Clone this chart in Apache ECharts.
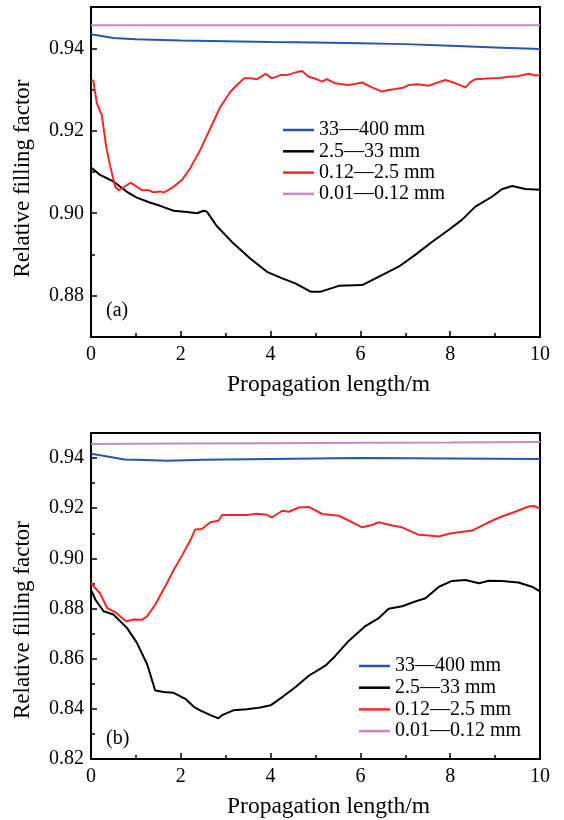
<!DOCTYPE html>
<html>
<head>
<meta charset="utf-8">
<script src="https://cdn.jsdelivr.net/npm/echarts@6/dist/echarts.min.js"></script>
<style>
  html, body { margin: 0; padding: 0; background: #fff; }
  #charts { width: 564px; height: 820px; }
</style>
</head>
<body>
<div id="charts"></div>
<script>
// legend names
var names = ['33—400 mm', '2.5—33 mm', '0.12—2.5 mm', '0.01—0.12 mm'];
var colors = ['#2a56a8', '#000000', '#f02828', '#c488c4'];

// (a)
var aBlueX = [0, 0.5, 1, 2, 3, 4, 5, 6, 7, 8, 9, 10];
var aBlueY = [0.9434, 0.9425, 0.9422, 0.9419, 0.9417, 0.9415, 0.9414, 0.9412, 0.9410, 0.9406, 0.9402, 0.9398];
var aBlackX = [0, 0.2, 0.5, 0.8, 1.02, 1.31, 1.54, 1.84, 2.14, 2.36, 2.51, 2.58, 2.80, 3.17, 3.54, 3.92, 4.26, 4.55, 4.89, 5.12, 5.52, 6.04, 6.48, 6.86, 7.22, 7.60, 7.97, 8.26, 8.56, 8.93, 9.15, 9.38, 9.67, 10];
var aBlackY = [0.9111, 0.9093, 0.9077, 0.9052, 0.9038, 0.9026, 0.9018, 0.9006, 0.9003, 0.9000, 0.9006, 0.9004, 0.8969, 0.8927, 0.8891, 0.8858, 0.8842, 0.8830, 0.8810, 0.8810, 0.8824, 0.8826, 0.8850, 0.8871, 0.8899, 0.8931, 0.8960, 0.8984, 0.9016, 0.9040, 0.9058, 0.9066, 0.9059, 0.9057];
var aRedX = [0, 0.05, 0.13, 0.24, 0.34, 0.43, 0.54, 0.62, 0.73, 0.88, 1.0, 1.13, 1.28, 1.39, 1.54, 1.62, 1.84, 2.03, 2.21, 2.43, 2.66, 2.88, 3.11, 3.25, 3.41, 3.55, 3.70, 3.89, 4.03, 4.22, 4.40, 4.55, 4.70, 4.85, 5.0, 5.15, 5.25, 5.44, 5.6, 5.74, 5.9, 6.04, 6.26, 6.48, 6.6, 6.78, 6.95, 7.08, 7.28, 7.52, 7.7, 7.89, 8.12, 8.34, 8.45, 8.56, 8.75, 8.93, 9.1, 9.30, 9.5, 9.75, 9.9, 10];
var aRedY = [0.9321, 0.9322, 0.9267, 0.9238, 0.9161, 0.9113, 0.9064, 0.9056, 0.9063, 0.9074, 0.9066, 0.9056, 0.9056, 0.9051, 0.9053, 0.9050, 0.9064, 0.9081, 0.9109, 0.9153, 0.9206, 0.9258, 0.9295, 0.9311, 0.9327, 0.9327, 0.9325, 0.9338, 0.9327, 0.9335, 0.9336, 0.9341, 0.9345, 0.9331, 0.9326, 0.9319, 0.9325, 0.9315, 0.9313, 0.9311, 0.9314, 0.9317, 0.9305, 0.9295, 0.9298, 0.9301, 0.9304, 0.9311, 0.9313, 0.9309, 0.9316, 0.9323, 0.9315, 0.9305, 0.9318, 0.9325, 0.9326, 0.9327, 0.9328, 0.9331, 0.9332, 0.9338, 0.9334, 0.9335];
var aPinkX = [0, 2, 4, 6, 8, 10];
var aPinkY = [0.9456, 0.9456, 0.9456, 0.9456, 0.9456, 0.9456];

// (b)
var bBlueX = [0, 0.3, 0.75, 1.2, 1.7, 2.5, 3, 4, 5, 6, 7, 8, 9, 10];
var bBlueY = [0.9417, 0.9408, 0.9394, 0.9392, 0.9389, 0.9393, 0.9394, 0.9396, 0.9398, 0.9400, 0.9399, 0.9398, 0.9397, 0.9396];
var bBlackX = [0, 0.1, 0.28, 0.5, 0.8, 1.02, 1.25, 1.43, 1.62, 1.84, 2.10, 2.29, 2.43, 2.66, 2.84, 2.92, 3.17, 3.47, 3.77, 4.0, 4.26, 4.55, 4.85, 5.22, 5.44, 5.74, 6.11, 6.41, 6.63, 6.93, 7.22, 7.45, 7.75, 8.04, 8.34, 8.64, 8.86, 9.15, 9.52, 9.82, 10];
var bBlackY = [0.8874, 0.8835, 0.8789, 0.8776, 0.8723, 0.8664, 0.8578, 0.8473, 0.8467, 0.8464, 0.8440, 0.8408, 0.8394, 0.8375, 0.8362, 0.8375, 0.8394, 0.8398, 0.8405, 0.8414, 0.8447, 0.8486, 0.8532, 0.8572, 0.8611, 0.8671, 0.8730, 0.8762, 0.8799, 0.8809, 0.8828, 0.8841, 0.8887, 0.8910, 0.8914, 0.8901, 0.8911, 0.8910, 0.8904, 0.8887, 0.8868];
var bRedX = [0, 0.1, 0.2, 0.36, 0.54, 0.73, 0.8, 0.95, 1.13, 1.25, 1.43, 1.69, 1.84, 2.03, 2.21, 2.32, 2.47, 2.66, 2.84, 2.92, 3.17, 3.47, 3.70, 3.92, 4.03, 4.26, 4.41, 4.63, 4.85, 5.15, 5.52, 5.82, 6.04, 6.26, 6.41, 6.71, 6.93, 7.30, 7.52, 7.75, 7.97, 8.19, 8.49, 8.71, 8.93, 9.15, 9.45, 9.75, 9.86, 10];
var bRedY = [0.8901, 0.8881, 0.8861, 0.8802, 0.8786, 0.8756, 0.8749, 0.8756, 0.8755, 0.8769, 0.8815, 0.8901, 0.8953, 0.9012, 0.9071, 0.9115, 0.9117, 0.9144, 0.9150, 0.9173, 0.9173, 0.9173, 0.9178, 0.9174, 0.9163, 0.9190, 0.9186, 0.9203, 0.9205, 0.9177, 0.9170, 0.9144, 0.9124, 0.9133, 0.9144, 0.9131, 0.9124, 0.9094, 0.9091, 0.9087, 0.9098, 0.9104, 0.9111, 0.9131, 0.9150, 0.9167, 0.9186, 0.9207, 0.9209, 0.9199];
var bPinkX = [0, 2, 4, 6, 8, 10];
var bPinkY = [0.9456, 0.9458, 0.9459, 0.9461, 0.9462, 0.9464];

// tick labels
var xTicks = [0, 2, 4, 6, 8, 10];
var aYTicks = [0.88, 0.90, 0.92, 0.94];
var aYMinor = [0.87, 0.89, 0.91, 0.93, 0.95];
var bYTicks = [0.82, 0.84, 0.86, 0.88, 0.90, 0.92, 0.94];
var bYMinor = [0.83, 0.85, 0.87, 0.89, 0.91, 0.93, 0.95];

function zip(xs, ys) {
    return xs.map(function (x, i) { return [x, ys[i]]; });
}

var font = 'Liberation Serif';

function xAxisFor(gi) {
    return {
        type: 'value', gridIndex: gi, min: 0, max: 10, interval: 2,
        name: 'Propagation length/m', nameLocation: 'middle', nameGap: 36,
        nameTextStyle: { fontFamily: font, fontSize: 23.5, color: '#000', padding: [0, 0, 0, 26] },
        axisLine: { lineStyle: { color: '#000', width: 2 } },
        axisTick: { inside: true, length: 6, customValues: xTicks, lineStyle: { color: '#000', width: 1.5 } },
        minorTick: { show: true, splitNumber: 2, length: 4, lineStyle: { color: '#000', width: 1.5 } },
        axisLabel: { fontFamily: font, fontSize: 20, color: '#000', margin: 8, customValues: xTicks },
        splitLine: { show: false }
    };
}

// shift: how far the y title sits below the plot centre
function yAxesFor(gi, min, max, major, minor, shift) {
    return [{
        type: 'value', gridIndex: gi, min: min, max: max,
        name: 'Relative filling factor', nameLocation: 'middle', nameGap: 57,
        nameTextStyle: { fontFamily: font, fontSize: 23, color: '#000', padding: [0, shift * 2, 0, 0] },
        axisLine: { lineStyle: { color: '#000', width: 2 } },
        axisTick: { inside: true, length: 6, customValues: major, lineStyle: { color: '#000', width: 1.5 } },
        axisLabel: {
            fontFamily: font, fontSize: 20, color: '#000', margin: 7,
            customValues: major,
            formatter: function (v) { return v.toFixed(2); }
        },
        splitLine: { show: false }
    }, {
        // minor ticks only
        type: 'value', gridIndex: gi, min: min, max: max, position: 'left',
        axisLine: { show: false },
        axisTick: { inside: true, length: 4, customValues: minor, lineStyle: { color: '#000', width: 1.5 } },
        axisLabel: { show: false },
        splitLine: { show: false }
    }];
}

function seriesFor(gi, sets) {
    return sets.map(function (d, i) {
        return {
            name: names[i], type: 'line', xAxisIndex: gi, yAxisIndex: gi * 2,
            data: d, symbol: 'none', smooth: false,
            lineStyle: { color: colors[i], width: 2 },
            itemStyle: { color: colors[i] }
        };
    });
}

var legendStyle = { fontFamily: font, fontSize: 20, color: '#000', lineHeight: 20 };

var myChart = echarts.init(document.getElementById('charts'));
var option = {
    animation: false,
    grid: [
        { left: 91, top: 7, width: 449, height: 330, show: true, borderColor: '#000', borderWidth: 2 },
        { left: 91, top: 433, width: 449, height: 330, show: true, borderColor: '#000', borderWidth: 2 }
    ],
    xAxis: [xAxisFor(0), xAxisFor(1)],
    yAxis: yAxesFor(0, 0.87, 0.95, aYTicks, aYMinor, 6.5).concat(yAxesFor(1, 0.82, 0.95, bYTicks, bYMinor, 24)),
    legend: [
        { orient: 'vertical', left: 283, top: 120, itemWidth: 31, itemHeight: 2.5, itemGap: 1.3,
          padding: 0, icon: 'rect', data: names, textStyle: legendStyle },
        { orient: 'vertical', left: 359, top: 656, itemWidth: 31, itemHeight: 2.5, itemGap: 1.7,
          padding: 0, icon: 'rect', data: names, textStyle: legendStyle }
    ],
    graphic: [
        { type: 'text', left: 106, top: 301, style: { text: '(a)', fontFamily: font, fontSize: 20, fill: '#000' } },
        { type: 'text', left: 106, top: 729, style: { text: '(b)', fontFamily: font, fontSize: 20, fill: '#000' } }
    ],
    series: seriesFor(0, [zip(aBlueX, aBlueY), zip(aBlackX, aBlackY), zip(aRedX, aRedY), zip(aPinkX, aPinkY)])
        .concat(seriesFor(1, [zip(bBlueX, bBlueY), zip(bBlackX, bBlackY), zip(bRedX, bRedY), zip(bPinkX, bPinkY)]))
};
myChart.setOption(option);
</script>
</body>
</html>
